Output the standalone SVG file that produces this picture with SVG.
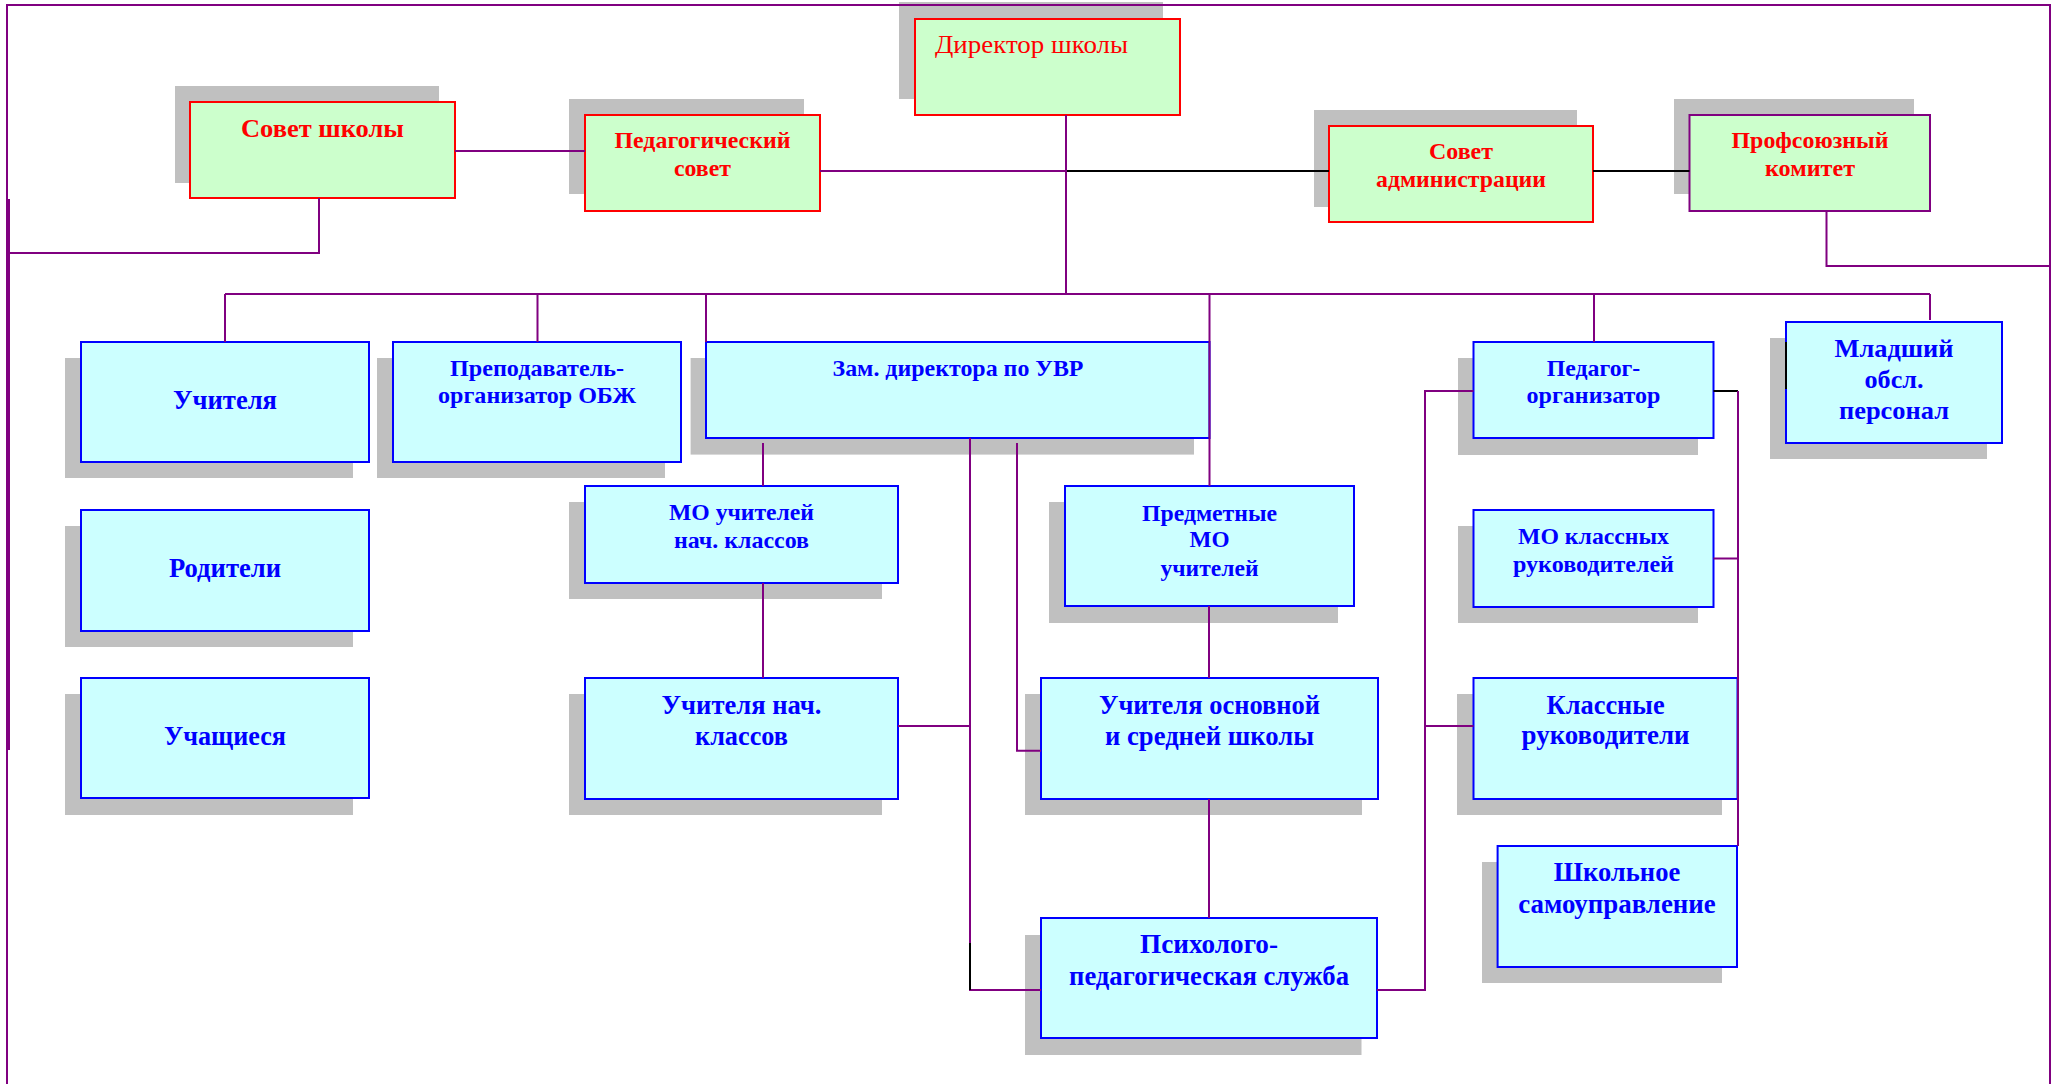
<svg xmlns="http://www.w3.org/2000/svg" width="2060" height="1084" viewBox="0 0 2060 1084">
<style>
.bg{fill:#FFFFFF}
.sh{fill:#C0C0C0}
.g{fill:#CCFFCC;stroke:#FF0000;stroke-width:2}
.gp{fill:#CCFFCC;stroke:#800080;stroke-width:2}
.b{fill:#CCFFFF;stroke:#0000FF;stroke-width:2}
text{font-family:"Liberation Serif","Times New Roman",serif;font-weight:bold;text-anchor:middle}
.tr{fill:#FF0000}
.tb{fill:#0000FF}
.c{stroke:#800080;stroke-width:2;fill:none}
.k{stroke:#000000;stroke-width:2;fill:none}
</style>
<rect class="bg" x="0" y="0" width="2060" height="1084"/>

<g id="sovet-shkoly">
<rect class="sh" x="175" y="86" width="264" height="97"/>
<rect class="g" x="190" y="102" width="265" height="96"/>
<text class="tr" x="322.5" y="137" font-size="26" textLength="163" lengthAdjust="spacingAndGlyphs">Совет школы</text>
</g>
<g id="ped-sovet">
<rect class="sh" x="569" y="99" width="235" height="95"/>
<rect class="g" x="585" y="115" width="235" height="96"/>
<text class="tr" x="702.5" y="148" font-size="24" textLength="176" lengthAdjust="spacingAndGlyphs">Педагогический</text>
<text class="tr" x="702.5" y="176" font-size="24" textLength="57" lengthAdjust="spacingAndGlyphs">совет</text>
</g>
<g id="direktor">
<rect class="sh" x="899" y="2" width="264" height="97"/>
<rect class="g" x="915" y="19" width="265" height="96"/>
<text class="tr" x="935" y="53" font-size="26" font-weight="normal" text-anchor="start" style="font-weight:normal;text-anchor:start" textLength="193" lengthAdjust="spacingAndGlyphs">Директор школы</text>
</g>
<g id="sovet-administracii">
<rect class="sh" x="1314" y="110" width="263" height="97"/>
<rect class="g" x="1329" y="126" width="264" height="96"/>
<text class="tr" x="1461" y="159" font-size="24" textLength="64" lengthAdjust="spacingAndGlyphs">Совет</text>
<text class="tr" x="1461" y="187" font-size="24" textLength="170" lengthAdjust="spacingAndGlyphs">администрации</text>
</g>
<g id="profkom">
<rect class="sh" x="1674" y="99" width="240" height="95"/>
<rect class="gp" x="1689.5" y="115" width="240.5" height="96"/>
<text class="tr" x="1810" y="148" font-size="24" textLength="157" lengthAdjust="spacingAndGlyphs">Профсоюзный</text>
<text class="tr" x="1810" y="176" font-size="24" textLength="90" lengthAdjust="spacingAndGlyphs">комитет</text>
</g>

<g id="uchitelya">
<rect class="sh" x="65" y="358" width="288" height="120"/>
<rect class="b" x="81" y="342" width="288" height="120"/>
<text class="tb" x="225" y="408.6" font-size="27" textLength="104" lengthAdjust="spacingAndGlyphs">Учителя</text>
</g>
<g id="roditeli">
<rect class="sh" x="65" y="526" width="288" height="121"/>
<rect class="b" x="81" y="510" width="288" height="121"/>
<text class="tb" x="225" y="577" font-size="27" textLength="112" lengthAdjust="spacingAndGlyphs">Родители</text>
</g>
<g id="uchaschiesya">
<rect class="sh" x="65" y="694" width="288" height="121"/>
<rect class="b" x="81" y="678" width="288" height="120"/>
<text class="tb" x="225" y="745" font-size="27" textLength="122" lengthAdjust="spacingAndGlyphs">Учащиеся</text>
</g>
<g id="prepodavatel-obzh">
<rect class="sh" x="377" y="358" width="288" height="120"/>
<rect class="b" x="393" y="342" width="288" height="120"/>
<text class="tb" x="537" y="376.4" font-size="23" textLength="174" lengthAdjust="spacingAndGlyphs">Преподаватель-</text>
<text class="tb" x="537" y="403" font-size="23" textLength="198" lengthAdjust="spacingAndGlyphs">организатор ОБЖ</text>
</g>
<g id="zam-direktora">
<rect class="sh" x="690.6" y="358" width="503.4" height="96.6"/>
<rect class="b" x="706" y="342" width="503.5" height="96"/>
<text class="tb" x="958" y="376" font-size="23" textLength="251" lengthAdjust="spacingAndGlyphs">Зам. директора по УВР</text>
</g>
<g id="mo-nach">
<rect class="sh" x="569" y="502" width="313" height="97"/>
<rect class="b" x="585" y="486" width="313" height="97"/>
<text class="tb" x="741.5" y="520" font-size="24" textLength="145" lengthAdjust="spacingAndGlyphs">МО учителей</text>
<text class="tb" x="741.5" y="548" font-size="24" textLength="135" lengthAdjust="spacingAndGlyphs">нач. классов</text>
</g>
<g id="uchitelya-nach">
<rect class="sh" x="569" y="694" width="313" height="121"/>
<rect class="b" x="585" y="678" width="313" height="121"/>
<text class="tb" x="741.5" y="714" font-size="27" textLength="160" lengthAdjust="spacingAndGlyphs">Учителя нач.</text>
<text class="tb" x="741.5" y="745" font-size="27" textLength="93" lengthAdjust="spacingAndGlyphs">классов</text>
</g>
<g id="predmetnye-mo">
<rect class="sh" x="1049" y="502" width="289" height="121"/>
<rect class="b" x="1065" y="486" width="289" height="120"/>
<text class="tb" x="1209.5" y="521" font-size="24" textLength="135" lengthAdjust="spacingAndGlyphs">Предметные</text>
<text class="tb" x="1209.5" y="547" font-size="24" textLength="40" lengthAdjust="spacingAndGlyphs">МО</text>
<text class="tb" x="1209.5" y="576" font-size="24" textLength="98" lengthAdjust="spacingAndGlyphs">учителей</text>
</g>
<g id="uchitelya-osn">
<rect class="sh" x="1025" y="694" width="337" height="121"/>
<rect class="b" x="1041" y="678" width="337" height="121"/>
<text class="tb" x="1209.5" y="714" font-size="27" textLength="221" lengthAdjust="spacingAndGlyphs">Учителя основной</text>
<text class="tb" x="1209.5" y="745" font-size="27" textLength="209" lengthAdjust="spacingAndGlyphs">и средней школы</text>
</g>
<g id="psihologo-ped">
<rect class="sh" x="1025" y="935" width="336.5" height="120"/>
<rect class="b" x="1041" y="918" width="336" height="120"/>
<text class="tb" x="1209" y="953" font-size="27" textLength="138" lengthAdjust="spacingAndGlyphs">Психолого-</text>
<text class="tb" x="1209" y="985" font-size="27" textLength="280" lengthAdjust="spacingAndGlyphs">педагогическая служба</text>
</g>
<g id="pedagog-org">
<rect class="sh" x="1458" y="358" width="240" height="97"/>
<rect class="b" x="1473.5" y="342" width="240" height="96"/>
<text class="tb" x="1593.5" y="375.7" font-size="23" textLength="93.5" lengthAdjust="spacingAndGlyphs">Педагог-</text>
<text class="tb" x="1593.5" y="403" font-size="23" textLength="134" lengthAdjust="spacingAndGlyphs">организатор</text>
</g>
<g id="mo-klassnyh">
<rect class="sh" x="1458" y="526" width="240" height="97"/>
<rect class="b" x="1473.5" y="510" width="240" height="97"/>
<text class="tb" x="1593.5" y="544" font-size="24" textLength="151" lengthAdjust="spacingAndGlyphs">МО классных</text>
<text class="tb" x="1593.5" y="572" font-size="24" textLength="161" lengthAdjust="spacingAndGlyphs">руководителей</text>
</g>
<g id="klassnye-ruk">
<rect class="sh" x="1457" y="694" width="265" height="121"/>
<rect class="b" x="1473.5" y="678" width="264" height="121"/>
<text class="tb" x="1605.6" y="714" font-size="27" textLength="118" lengthAdjust="spacingAndGlyphs">Классные</text>
<text class="tb" x="1605.6" y="744" font-size="27" textLength="168" lengthAdjust="spacingAndGlyphs">руководители</text>
</g>
<g id="shkolnoe-samoupr">
<rect class="sh" x="1482" y="862" width="240" height="121"/>
<rect class="b" x="1497.6" y="846" width="239.4" height="121"/>
<text class="tb" x="1617" y="881" font-size="27" textLength="126.5" lengthAdjust="spacingAndGlyphs">Школьное</text>
<text class="tb" x="1617" y="912.7" font-size="27" textLength="197.5" lengthAdjust="spacingAndGlyphs">самоуправление</text>
</g>
<g id="mladshiy-personal">
<rect class="sh" x="1770" y="338" width="217" height="121"/>
<rect class="b" x="1786" y="322" width="216" height="121"/>
<text class="tb" x="1894" y="357" font-size="26" textLength="119" lengthAdjust="spacingAndGlyphs">Младший</text>
<text class="tb" x="1894" y="388" font-size="26" textLength="59" lengthAdjust="spacingAndGlyphs">обсл.</text>
<text class="tb" x="1894" y="419" font-size="26" textLength="110" lengthAdjust="spacingAndGlyphs">персонал</text>
</g>

<g id="connectors">
<path class="c" d="M7,1084 V5 H2050 V1084"/>
<path class="c" d="M9,199 V750" stroke-width="2.5"/>
<path class="c" d="M319,198 V253 H9"/>
<path class="c" d="M455,151 H585"/>
<path class="c" d="M820,171 H1066"/>
<path class="k" d="M1066,171 H1329"/>
<path class="k" d="M1593,171 H1689.5"/>
<path class="c" d="M1826.5,211 V266 H2050"/>
<path class="c" d="M1066,115 V294"/>
<path class="c" d="M225,294 H1930"/>
<path class="c" d="M225,294 V342 M537.5,294 V342 M706,294 V342 M1209.5,294 V486 M1594,294 V342 M1930,294 V320"/>
<path class="c" d="M763,443 V486 M763,583 V678"/>
<path class="c" d="M970,438 V990 H1041"/>
<path class="k" d="M970,943 V990"/>
<path class="c" d="M898,726 H970"/>
<path class="c" d="M1017,443 V750.7 H1041"/>
<path class="c" d="M1209,606 V678 M1209,799 V918"/>
<path class="c" d="M1377,990 H1425 V391 H1473.5 M1425,726 H1473.5"/>
<path class="k" d="M1713.5,391 H1738"/>
<path class="c" d="M1738,391 V846 M1713.5,558.6 H1738"/>
<path class="k" d="M1786,342 V389"/>
</g>
</svg>
